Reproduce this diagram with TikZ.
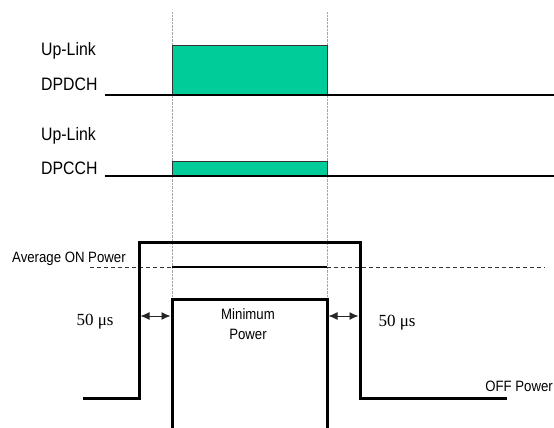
\documentclass[tikz,border=0pt]{standalone}
\usepackage{fontspec}
\setmainfont{Liberation Serif}
\newfontfamily\narrowsans[FakeStretch=0.88]{Liberation Sans}
\usetikzlibrary{arrows.meta}
\definecolor{chgreen}{RGB}{0,204,153}
\begin{document}
\begin{tikzpicture}[x=1pt,y=-1pt,
  lbl/.style={font=\narrowsans\fontsize{18}{20}\selectfont, anchor=base west, inner sep=0pt},
  small/.style={font=\narrowsans\fontsize{15}{20}\selectfont, inner sep=0pt},
  musec/.style={font=\fontsize{17}{19}\selectfont, inner sep=0pt, anchor=base},
  baseln/.style={line width=2.5pt},
  stepline/.style={line width=3pt, line join=miter},
  guide/.style={gray!70, line width=0.6pt, dash pattern=on 0.7pt off 0.7pt},
  burst/.style={fill=chgreen, draw=black!80, line width=0.8pt},
  avgdash/.style={line width=0.8pt, dash pattern=on 4pt off 3pt, black!80},
  dimarrow/.style={{Latex[length=9pt,width=8pt]}-{Latex[length=9pt,width=8pt]}, line width=0.9pt, black!85}]
\useasboundingbox (0,0) rectangle (554,428);

% guide coordinates
\coordinate (g1t) at (172,12);
\coordinate (g1b) at (172,299);
\coordinate (g2t) at (327,12);
\coordinate (g2b) at (327,299);
\draw[guide] (g1t) -- (g1b);
\draw[guide] (g2t) -- (g2b);

% DPDCH
\coordinate (d1s) at (105,95);
\coordinate (d1e) at (554,95);
\draw[burst] (172,45) rectangle (327,95);
\draw[baseln] (d1s) -- (d1e);
\node[lbl] (ul1) at (41,56) {Up-Link};
\node[lbl] (dpdch) at (41,90) {DPDCH};

% DPCCH
\coordinate (d2s) at (105,176);
\coordinate (d2e) at (554,176);
\draw[burst] (172,161) rectangle (327,176);
\draw[baseln] (d2s) -- (d2e);
\node[lbl] (ul2) at (41,140) {Up-Link};
\node[lbl] (dpcch) at (41,174) {DPCCH};

% average power line
\coordinate (a0) at (90,267);
\coordinate (a1) at (172,267);
\coordinate (a2) at (327,267);
\coordinate (a3) at (545,267);
\draw[avgdash] (a0) -- (a1);
\draw[line width=1.8pt] (a1) -- (a2);
\draw[avgdash] (a2) -- (a3);

% outer mask
\coordinate (o0) at (83,398);
\coordinate (o1) at (139,398);
\coordinate (o2) at (139,242);
\coordinate (o3) at (360,242);
\coordinate (o4) at (360,398);
\coordinate (o5) at (507,398);
\draw[stepline] (o0) -- (o1) -- (o2) -- (o3) -- (o4) -- (o5);

% inner mask
\coordinate (i0) at (172,428);
\coordinate (i1) at (172,299);
\coordinate (i2) at (327,299);
\coordinate (i3) at (327,428);
\draw[stepline] (i0) -- (i1) -- (i2) -- (i3);

% transition arrows
\coordinate (l1) at (140.5,316);
\coordinate (l2) at (170.5,316);
\coordinate (r1) at (328.5,316);
\coordinate (r2) at (358.5,316);
\draw[dimarrow] (l1) -- (l2);
\draw[dimarrow] (r1) -- (r2);

% labels
\node[musec] (t1) at (95,325) {50 μs};
\node[musec] (t2) at (397,326) {50 μs};
\node[small, anchor=base west] (avgl) at (12,262) {Average ON Power};
\node[small, anchor=base east] (offl) at (553,391) {OFF Power};
\node[small, anchor=base] (minl1) at (248,319) {Minimum};
\node[small, anchor=base] (minl2) at (248,339) {Power};
\end{tikzpicture}
\end{document}
